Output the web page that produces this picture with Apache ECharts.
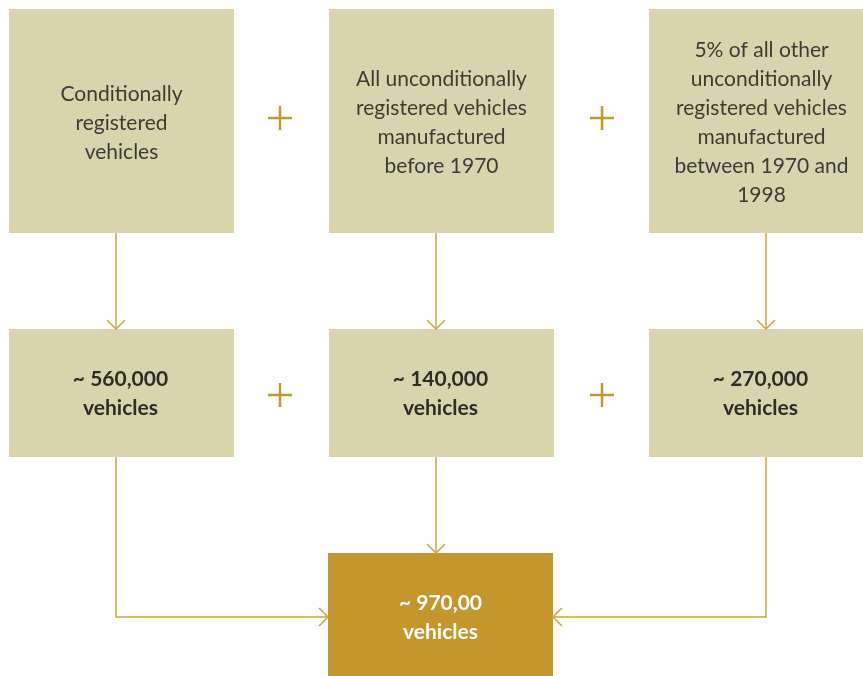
<!DOCTYPE html>
<html>
<head>
<meta charset="utf-8">
<script src="https://cdn.jsdelivr.net/npm/echarts@6/dist/echarts.min.js"></script>
<style>
  html, body { margin: 0; padding: 0; background: #fff; }
  #chart { width: 863px; height: 676px; }
</style>
</head>
<body>
<div id="chart"></div>
<script>
// texts of the diagram
const sourceLabels = [
  'Conditionally\nregistered\nvehicles',
  'All unconditionally\nregistered vehicles\nmanufactured\nbefore 1970',
  '5% of all other\nunconditionally\nregistered vehicles\nmanufactured\nbetween 1970 and\n1998'
]
const estimates = ['~ 560,000', '~ 140,000', '~ 270,000']
const totalEstimate = '~ 970,00'
const unitLabel = 'vehicles'

// layout
const colX = [9, 329, 649]
const boxW = 225
const topRow = {y: 9, h: 224}
const midRow = {y: 329, h: 128}
const totalBox = {x: 328, y: 553, w: 225, h: 128}
const arrowX = [116, 436, 766]
const joinY = 617
const plusX = [280, 602]

const boxColor = '#d9d3ae'
const gold = '#c4972d'
const lineColor = '#d2a33c'
const fontFamily = 'Lato, "Open Sans", sans-serif'

const chart = echarts.init(document.getElementById('chart'), null, {renderer: 'canvas'})

const elements = []

function box(x, y, w, h, fill) {
  elements.push({type: 'rect', shape: {x, y, width: w, height: h}, style: {fill}, silent: true})
}
function label(text, cx, cy, opts) {
  elements.push({
    type: 'text', z: 10,
    style: Object.assign({
      text, x: cx, y: cy, align: 'center', verticalAlign: 'middle',
      fontFamily, lineHeight: 29
    }, opts)
  })
}
function line(points) {
  elements.push({type: 'polyline', shape: {points}, style: {stroke: lineColor, lineWidth: 1.5, fill: null}})
}
function headDown(x, y) {
  line([[x - 9, y - 9], [x, y], [x + 9, y - 9]])
}
function headRight(x, y) {
  line([[x - 9, y - 9], [x, y], [x - 9, y + 9]])
}
function headLeft(x, y) {
  line([[x + 9, y - 9], [x, y], [x + 9, y + 9]])
}
function plus(cx, cy) {
  elements.push({type: 'line', shape: {x1: cx - 12, y1: cy, x2: cx + 12, y2: cy}, style: {stroke: gold, lineWidth: 2.5}})
  elements.push({type: 'line', shape: {x1: cx, y1: cy - 12, x2: cx, y2: cy + 12}, style: {stroke: gold, lineWidth: 2.5}})
}

sourceLabels.forEach((t, i) => {
  box(colX[i], topRow.y, boxW, topRow.h, boxColor)
  label(t, colX[i] + boxW / 2, topRow.y + topRow.h / 2 + 2, {fontSize: 21, fill: '#3d3b36'})
})
estimates.forEach((t, i) => {
  box(colX[i], midRow.y, boxW, midRow.h, boxColor)
  label(t + '\n' + unitLabel, colX[i] + boxW / 2 - 1, midRow.y + midRow.h / 2 + 1, {fontSize: 21, fontWeight: 'bold', fill: '#2e2c28'})
})
box(totalBox.x, totalBox.y, totalBox.w, totalBox.h, gold)
label(totalEstimate + '\n' + unitLabel, totalBox.x + totalBox.w / 2, 618, {fontSize: 21, fontWeight: 'bold', fill: '#ffffff'})

// arrows from sources to estimates
arrowX.forEach(x => {
  line([[x, topRow.y + topRow.h], [x, midRow.y]])
  headDown(x, midRow.y)
})
// arrows to total
const midBottom = midRow.y + midRow.h
line([[arrowX[0], midBottom], [arrowX[0], joinY], [totalBox.x, joinY]])
headRight(totalBox.x, joinY)
line([[arrowX[1], midBottom], [arrowX[1], totalBox.y]])
headDown(arrowX[1], totalBox.y)
line([[arrowX[2], midBottom], [arrowX[2], joinY], [totalBox.x + totalBox.w, joinY]])
headLeft(totalBox.x + totalBox.w, joinY)

plusX.forEach(x => {
  plus(x, 118)
  plus(x, 395)
})

chart.setOption({
  animation: false,
  graphic: {elements}
})
</script>
</body>
</html>
